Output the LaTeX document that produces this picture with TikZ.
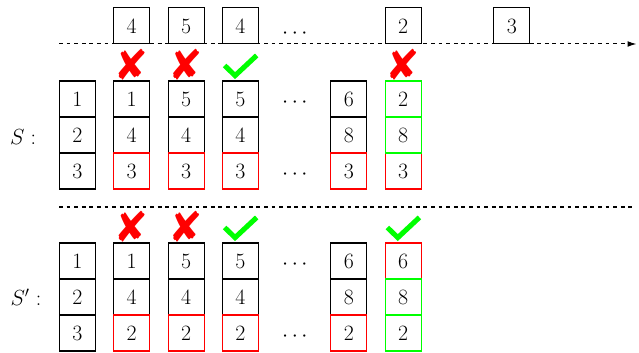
\documentclass[tikz,border=0pt]{standalone}
\usepackage{pifont}
\usetikzlibrary{arrows.meta}
\tikzset{
	cell/.style={draw, line width=0.8pt, minimum size=1cm, inner sep=0pt, font=\LARGE},
	redcell/.style={cell, draw=red},
	greencell/.style={cell, draw=green},
	nope/.style={inner sep=0pt, text=red, font=\fontsize{34}{34}\selectfont},
	etc/.style={inner sep=0pt, font=\LARGE},
	timeline/.style={dashed, line width=0.8pt},
	yes/.pic={\draw[green, line width=4pt, line join=miter] (-0.44, 0.43) -- (-0.15, 0.15) -- (0.45, 0.71);}
}

\begin{document}
\begin{tikzpicture}
		%%%%% START %%%%%
		\useasboundingbox (0, 0) rectangle (17.75, -9.778);
		
		% incoming sequence
		\coordinate (tl-start) at (1.64, -1.222);
		\coordinate (tl-end) at (17.68, -1.222);
		\draw[timeline, -{Latex[length=7pt, width=4.5pt]}] (tl-start) -- (tl-end);
		\node[cell] (q1) at (3.66, -0.722) {4};
		\node[cell] (q2) at (5.17, -0.722) {5};
		\node[cell] (q3) at (6.68, -0.722) {4};
		\node[etc] (q4) at (8.19, -0.93) {$\cdots$};
		\node[cell] (q6) at (11.2, -0.722) {2};
		\node[cell] (q8) at (14.22, -0.722) {3};
		
		% S
		\node[etc] (lbl-s) at (0.64, -3.82) {$S:$};
		\node[cell] (s0a) at (2.15, -2.75) {1};
		\node[cell] (s0b) at (2.15, -3.75) {2};
		\node[cell] (s0c) at (2.15, -4.75) {3};
		\node[cell] (s1a) at (3.66, -2.75) {1};
		\node[cell] (s1b) at (3.66, -3.75) {4};
		\node[cell] (s2a) at (5.17, -2.75) {5};
		\node[cell] (s2b) at (5.17, -3.75) {4};
		\node[cell] (s3a) at (6.68, -2.75) {5};
		\node[cell] (s3b) at (6.68, -3.75) {4};
		\node[etc] (s4a) at (8.19, -2.86) {$\cdots$};
		\node[etc] (s4c) at (8.19, -4.86) {$\cdots$};
		\node[cell] (s5a) at (9.69, -2.75) {6};
		\node[cell] (s5b) at (9.69, -3.75) {8};
		\node[redcell] (s1c) at (3.66, -4.75) {3};
		\node[redcell] (s2c) at (5.17, -4.75) {3};
		\node[redcell] (s3c) at (6.68, -4.75) {3};
		\node[redcell] (s5c) at (9.69, -4.75) {3};
		\node[redcell] (s6c) at (11.2, -4.75) {3};
		\node[greencell] (s6a) at (11.2, -2.75) {2};
		\node[greencell] (s6b) at (11.2, -3.75) {8};
		
		\node[nope] (ms1) at (3.66, -1.8) {\ding{56}};
		\node[nope] (ms2) at (5.17, -1.8) {\ding{56}};
		\pic at (6.68, -2.25) {yes};
		\node[nope] (ms6) at (11.2, -1.8) {\ding{56}};
		
		% separator
		\coordinate (sep-start) at (1.64, -5.75);
		\coordinate (sep-end) at (17.64, -5.75);
		\draw[timeline] (sep-start) -- (sep-end);
		
		% S'
		\node[etc] (lbl-p) at (0.72, -8.27) {$S':$};
		\node[cell] (p0a) at (2.15, -7.25) {1};
		\node[cell] (p0b) at (2.15, -8.25) {2};
		\node[cell] (p0c) at (2.15, -9.25) {3};
		\node[cell] (p1a) at (3.66, -7.25) {1};
		\node[cell] (p1b) at (3.66, -8.25) {4};
		\node[cell] (p2a) at (5.17, -7.25) {5};
		\node[cell] (p2b) at (5.17, -8.25) {4};
		\node[cell] (p3a) at (6.68, -7.25) {5};
		\node[cell] (p3b) at (6.68, -8.25) {4};
		\node[etc] (p4a) at (8.19, -7.36) {$\cdots$};
		\node[etc] (p4c) at (8.19, -9.36) {$\cdots$};
		\node[cell] (p5a) at (9.69, -7.25) {6};
		\node[cell] (p5b) at (9.69, -8.25) {8};
		\node[redcell] (p1c) at (3.66, -9.25) {2};
		\node[redcell] (p2c) at (5.17, -9.25) {2};
		\node[redcell] (p3c) at (6.68, -9.25) {2};
		\node[redcell] (p5c) at (9.69, -9.25) {2};
		\node[redcell] (p6a) at (11.2, -7.25) {6};
		\node[greencell] (p6b) at (11.2, -8.25) {8};
		\node[greencell] (p6c) at (11.2, -9.25) {2};
		
		\node[nope] (mp1) at (3.66, -6.3) {\ding{56}};
		\node[nope] (mp2) at (5.17, -6.3) {\ding{56}};
		\pic at (6.68, -6.75) {yes};
		\pic at (11.2, -6.75) {yes};
		
		%%%%% END %%%%%
	\end{tikzpicture}
\end{document}
